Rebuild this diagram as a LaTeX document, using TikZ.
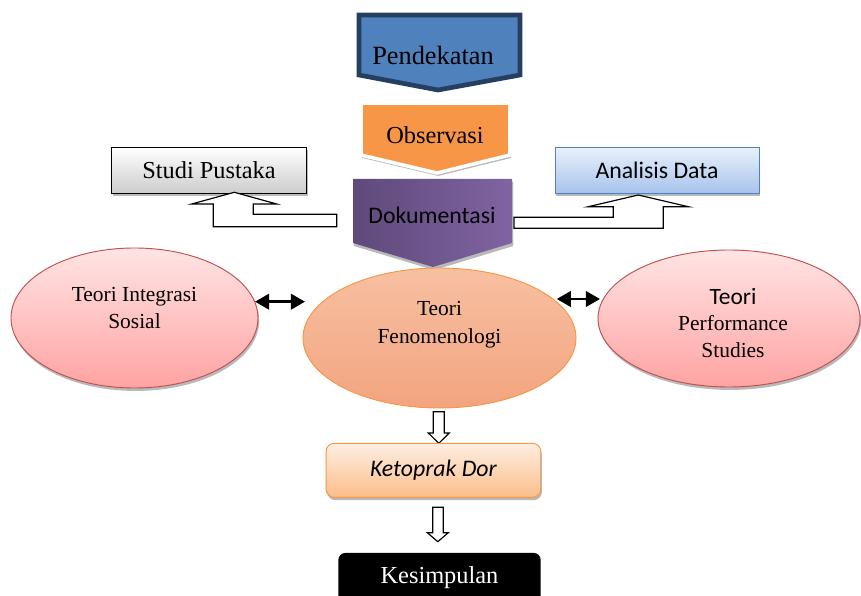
\documentclass[tikz,border=0pt]{standalone}
\usepackage{fontspec}
\setmainfont{Liberation Serif}
\newfontfamily\calfont{Carlito}
\usetikzlibrary{shapes.geometric,shadows,arrows.meta}
\definecolor{pendfill}{HTML}{4F81BD}
\definecolor{pendline}{HTML}{243F60}
\definecolor{obsfill}{HTML}{F79646}
\definecolor{dokleft}{HTML}{5F497A}
\definecolor{dokright}{HTML}{8064A2}
\definecolor{pinktop}{HTML}{FFE4E4}
\definecolor{pinkbot}{HTML}{FFA3A3}
\definecolor{pinkline}{HTML}{C0504D}
\definecolor{salmtop}{HTML}{F7C0A2}
\definecolor{salmbot}{HTML}{F3A47F}
\definecolor{bluetop}{HTML}{E8F0FB}
\definecolor{bluebot}{HTML}{A7C3EC}
\definecolor{orgtop}{HTML}{FEEEE2}
\definecolor{orgbot}{HTML}{FBBE8A}

\begin{document}
\begin{tikzpicture}[x=0.03cm,y=-0.03cm,
  big/.style={font=\fontsize{20.8}{24}\selectfont},
  mid/.style={font=\fontsize{18.3}{23}\selectfont,align=center},
  shade/.style={drop shadow={shadow xshift=1pt,shadow yshift=-2.5pt,fill=gray!55,opacity=1}},
  oval/.style={ellipse,draw=pinkline,thick,top color=pinktop,bottom color=pinkbot,shade},
  hollow/.style={draw=black,fill=white,line width=1pt,line join=miter},
  dbl/.style={{Triangle[length=12pt,width=13pt]}-{Triangle[length=12pt,width=13pt]},line width=2.5pt}]
\useasboundingbox (0,0) rectangle (861,596);

% chevrons
\filldraw[fill=pendfill,draw=pendline,line width=4pt,line join=miter] (359,15) -- (520,15) -- (520,75) -- (438,90) -- (359,75) -- cycle;
\node[font=\fontsize{22.5}{26}\selectfont] (pendekatan) at (433,55) {Pendekatan};
\filldraw[fill=obsfill,draw=white,line width=3pt,shade] (361,103) -- (510,103) -- (510,155) -- (437,173) -- (361,155) -- cycle;
\node[big] (observasi) at (435,135) {Observasi};
\shade[left color=dokleft,right color=dokright,shade] (353,179) -- (512,179) -- (512,243) -- (433,267) -- (353,243) -- cycle;
\node[big,font=\calfont\fontsize{20.3}{24}\selectfont] (dokumentasi) at (432,215) {Dokumentasi};

% side boxes
\node[big,draw=black,thick,top color=white,bottom color=gray!40,minimum width=5.85cm,minimum height=1.38cm,shade] (pustaka) at (209,170.3) {Studi Pustaka};
\node[big,font=\calfont\fontsize{20.3}{24}\selectfont,draw=pendfill,thick,top color=bluetop,bottom color=bluebot,minimum width=6.12cm,minimum height=1.38cm,shade] (analisis) at (657,170.3) {Analisis Data};

% bent arrows
\draw[hollow] (234.3,192.3) -- (276.7,204) -- (253.3,204) -- (253.3,214.3) -- (336.7,214.3) -- (336.7,226.7) -- (213.3,226.7) -- (213.3,204) -- (191.7,204) -- cycle;
\draw[hollow] (638.3,195) -- (688.3,206.7) -- (663.3,206.7) -- (663.3,228.3) -- (514,228.3) -- (514,217.3) -- (613.3,217.3) -- (613.3,206.7) -- (588.3,206.7) -- cycle;

% theories
\node[oval,minimum width=7.41cm,minimum height=4.2cm] (integrasi) at (134.5,318) {};
\node[mid] (integrasi-t) at (134.5,308) {Teori Integrasi\\Sosial};
\node[ellipse,draw=obsfill,thick,top color=salmtop,bottom color=salmbot,minimum width=8.19cm,minimum height=4.2cm] (fenomenologi) at (439.5,338) {};
\node[mid,font=\fontsize{18.3}{24}\selectfont] (fenomenologi-t) at (439.5,325) {Teori\\Fenomenologi};
\node[oval,minimum width=7.86cm,minimum height=4.11cm] (performance) at (729,318.5) {};
\node[mid] (performance-t) at (733,323) {{\calfont\fontsize{20}{24}\selectfont Teori}\\Performance\\Studies};

\coordinate (a1) at (255,301.7);
\coordinate (a2) at (305,301.7);
\coordinate (b1) at (556.7,299);
\coordinate (b2) at (600,299);
\draw[dbl] (a1) -- (a2);
\draw[dbl] (b1) -- (b2);

% bottom
\draw[hollow] (433.3,411.7) -- (444.3,411.7) -- (444.3,433) -- (449.3,433) -- (438.8,443.3) -- (428.3,433) -- (433.3,433) -- cycle;
\node[big,font=\calfont\itshape\fontsize{20.3}{24}\selectfont,draw=obsfill,thick,rounded corners=7pt,top color=orgtop,bottom color=orgbot,minimum width=6.44cm,minimum height=1.62cm,shade] (ketoprak) at (433.4,470.3) {Ketoprak Dor};
\draw[hollow] (432.7,507.3) -- (443.3,507.3) -- (443.3,532.7) -- (448.3,532.7) -- (437.8,541.7) -- (427.3,532.7) -- (432.7,532.7) -- cycle;
\node[big,fill=black,text=white,rounded corners=6pt,minimum width=6.07cm,minimum height=1.7cm,anchor=north] (kesimpulan) at (439.5,552.7) {};
\node[big,text=white] (kesimpulan-t) at (439.5,578) {Kesimpulan};
\end{tikzpicture}
\end{document}
